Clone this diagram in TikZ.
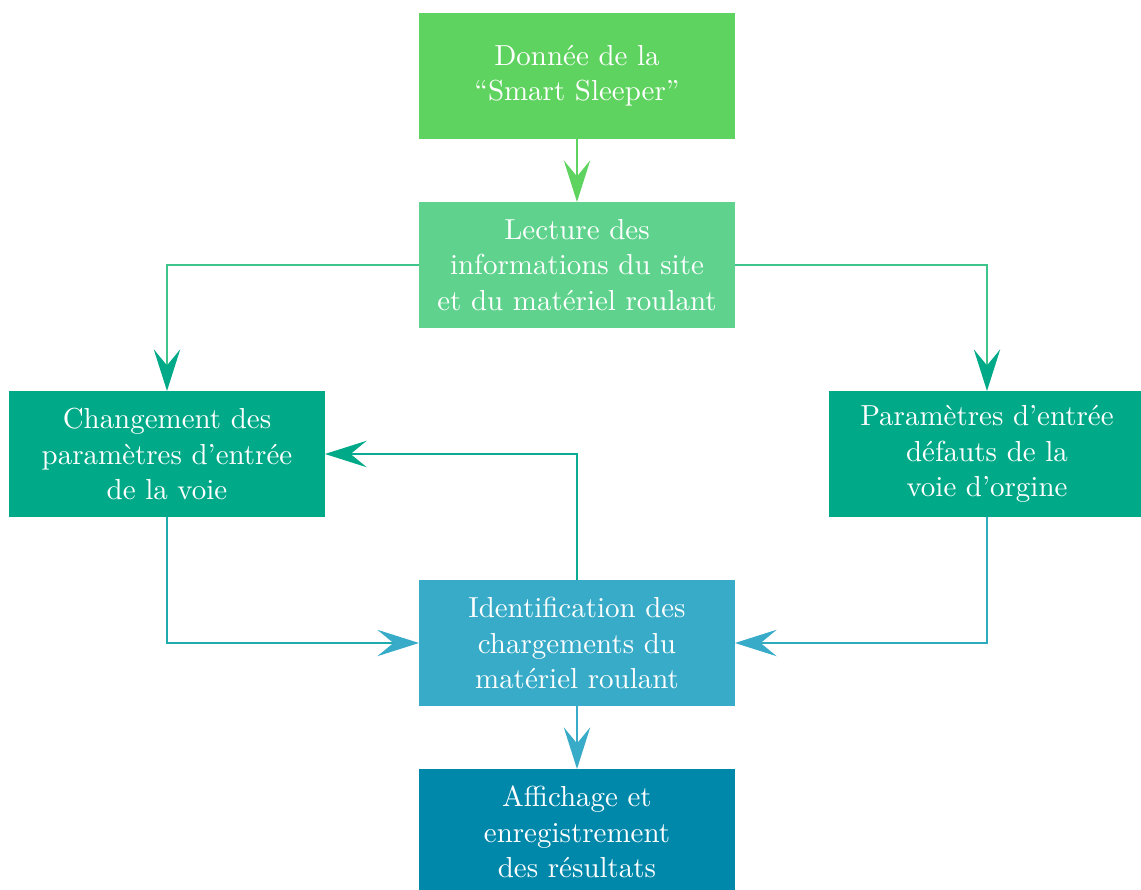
\documentclass[tikz,border=0pt]{standalone}
\usepackage{tikz}
\usetikzlibrary{arrows.meta, positioning}

\definecolor{sleepergreen}{HTML}{5FD35F}
\definecolor{sitegreen}{HTML}{5FD38D}
\definecolor{voieteal}{HTML}{00AA88}
\definecolor{chargeblue}{HTML}{37ABC8}
\definecolor{resultblue}{HTML}{0088AA}

\begin{document}
\begin{tikzpicture}[
        font=\fontsize{10.3}{12.6}\selectfont,
        node distance=7.875mm and 11.75mm,
        block/.style={
            rectangle,
            fill=#1,
            text=white,
            align=center,
            minimum width=39.5mm,
            minimum height=15.75mm,
            inner sep=2pt,
            outer sep=0pt
        },
        arrow/.style={
            -{Stealth[length=5.2mm, width=3.3mm, inset=2mm, color=#1]},
            line width=0.7pt
        }
    ]

    \useasboundingbox (-7.2125,0.95) rectangle (7.05,-10.175);

    \node[block=sleepergreen] (donnee) {Donnée de la\\“Smart Sleeper”};
    \node[block=sitegreen, below=of donnee] (lecture) {Lecture des\\informations du site\\et du matériel roulant};
    \node[block=voieteal, below left=of lecture] (changement) {Changement des\\paramètres d’entrée\\de la voie};
    \node[block=voieteal, below right=of lecture] (parametres) {Paramètres d’entrée\\défauts de la\\voie d’orgine};
    \node[block=chargeblue, below right=of changement] (identif) {Identification des\\chargements du\\matériel roulant};
    \node[block=resultblue, below=of identif] (affichage) {Affichage et\\enregistrement\\des résultats};

    \draw[arrow=sleepergreen, draw=sleepergreen] (donnee) -- (lecture);
    \draw[arrow=voieteal, draw=sitegreen!65!voieteal] (lecture.west) -| (changement.north);
    \draw[arrow=voieteal, draw=sitegreen!65!voieteal] (lecture.east) -| (parametres.north);
    \draw[arrow=voieteal, draw=voieteal!80!chargeblue] (identif.north) |- (changement.east);
    \draw[arrow=chargeblue, draw=voieteal!45!chargeblue] (changement.south) |- (identif.west);
    \draw[arrow=chargeblue, draw=chargeblue!85!voieteal] (parametres.south) |- (identif.east);
    \draw[arrow=chargeblue, draw=chargeblue] (identif) -- (affichage);

    \end{tikzpicture}
\end{document}
